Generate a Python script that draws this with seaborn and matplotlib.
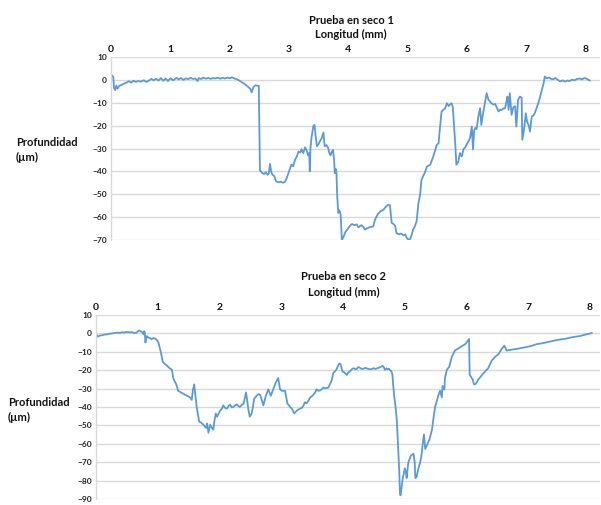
import matplotlib
matplotlib.use("Agg")
import matplotlib.pyplot as plt
import seaborn as sns
import pandas as pd

# Profile 1: position along the track (mm) and depth (µm)
x1 = [0.00, 0.02, 0.04, 0.05, 0.07, 0.09, 0.11, 0.14, 0.18, 0.22, 0.26, 0.30, 0.34, 0.38, 0.42,
      0.46, 0.50, 0.55, 0.60, 0.64, 0.68, 0.72, 0.76, 0.80, 0.84, 0.88, 0.92, 0.96, 1.00, 1.05,
      1.10, 1.14, 1.18, 1.22, 1.26, 1.30, 1.34, 1.38, 1.42, 1.46, 1.48, 1.52, 1.56, 1.60, 1.64,
      1.68, 1.72, 1.76, 1.80, 1.84, 1.88, 1.92, 1.96, 2.00, 2.04, 2.08, 2.12, 2.18, 2.24, 2.30,
      2.35, 2.37, 2.40, 2.43, 2.46, 2.49, 2.51, 2.54, 2.58, 2.61, 2.64, 2.66, 2.68, 2.70, 2.72,
      2.75, 2.78, 2.82, 2.86, 2.90, 2.93, 2.96, 3.00, 3.04, 3.07, 3.10, 3.13, 3.16, 3.19, 3.21,
      3.24, 3.27, 3.30, 3.32, 3.34, 3.35, 3.36, 3.38, 3.41, 3.43, 3.45, 3.47, 3.50, 3.52, 3.55,
      3.58, 3.60, 3.63, 3.66, 3.68, 3.70, 3.72, 3.74, 3.76, 3.77, 3.79, 3.80, 3.81, 3.83, 3.85,
      3.87, 3.88, 3.89, 3.92, 3.95, 3.98, 4.02, 4.06, 4.10, 4.14, 4.17, 4.19, 4.22, 4.25, 4.28,
      4.31, 4.35, 4.39, 4.42, 4.45, 4.48, 4.50, 4.54, 4.59, 4.63, 4.67, 4.70, 4.72, 4.73, 4.76,
      4.79, 4.81, 4.85, 4.89, 4.93, 4.96, 4.98, 5.01, 5.04, 5.07, 5.09, 5.12, 5.15, 5.18, 5.21,
      5.23, 5.26, 5.29, 5.32, 5.35, 5.38, 5.41, 5.43, 5.46, 5.49, 5.52, 5.54, 5.57, 5.60, 5.63,
      5.66, 5.69, 5.71, 5.74, 5.76, 5.77, 5.80, 5.82, 5.85, 5.88, 5.91, 5.94, 5.97, 5.99, 6.02,
      6.05, 6.08, 6.10, 6.12, 6.14, 6.16, 6.19, 6.22, 6.24, 6.27, 6.30, 6.33, 6.36, 6.39, 6.41,
      6.44, 6.47, 6.50, 6.53, 6.56, 6.58, 6.61, 6.64, 6.66, 6.68, 6.70, 6.72, 6.75, 6.78, 6.81,
      6.83, 6.86, 6.89, 6.92, 6.93, 6.96, 6.99, 7.01, 7.04, 7.06, 7.09, 7.12, 7.14, 7.17, 7.20,
      7.23, 7.26, 7.29, 7.31, 7.34, 7.38, 7.42, 7.45, 7.49, 7.53, 7.57, 7.61, 7.65, 7.69, 7.73,
      7.77, 7.81, 7.85, 7.90, 7.94, 7.97, 8.01, 8.04, 8.07]
y1 = [0.5, 2.0, 1.0, -3.5, -4.5, -2.5, -3.8, -2.6, -2.2, -1.6, -1.2, -0.6, -1.2, -0.4, -0.9,
      -0.5, -0.8, -0.2, -0.9, -0.3, 0.4, -0.2, 0.5, -0.3, 0.8, -0.4, 0.6, -0.5, 0.7, -0.2,
      0.9, 0.2, 0.8, 0.0, 0.7, 0.3, 0.9, 0.4, 0.6, -0.5, 0.8, 0.4, 1.0, 0.5, 0.9,
      0.4, 0.8, 0.6, 1.0, 0.5, 0.9, 0.6, 1.0, 0.7, 1.1, 0.6, 0.3, -0.6, -1.6, -2.8,
      -4.0, -5.5, -3.2, -2.4, -2.5, -2.6, -39.5, -40.5, -41.2, -40.3, -41.5, -40.8, -36.7, -40.2, -41.5,
      -42.0, -44.3, -44.8, -44.5, -45.0, -44.6, -43.0, -40.0, -37.0, -37.8, -35.0, -33.6, -31.3, -31.8, -30.3,
      -32.0, -29.5, -31.0, -33.0, -32.0, -40.0, -30.0, -25.0, -20.1, -19.7, -25.0, -29.0, -28.0, -26.8, -25.5,
      -23.0, -29.0, -28.5, -29.8, -32.0, -33.0, -31.5, -30.6, -35.0, -40.8, -39.0, -41.0, -50.0, -58.2, -57.0,
      -58.9, -64.0, -70.0, -68.5, -66.5, -65.5, -64.0, -63.0, -63.5, -63.2, -64.5, -64.0, -63.5, -64.2, -65.5,
      -65.0, -64.5, -64.2, -64.0, -61.0, -59.5, -58.5, -57.5, -56.8, -55.5, -54.6, -54.8, -60.0, -62.5, -63.0,
      -63.9, -67.0, -67.5, -67.2, -68.0, -67.5, -69.0, -69.8, -69.6, -67.5, -65.5, -64.0, -61.8, -53.9, -50.0,
      -44.0, -42.0, -40.5, -38.0, -37.5, -37.1, -35.0, -33.5, -31.0, -28.4, -27.7, -21.8, -13.8, -13.1, -12.5,
      -10.2, -11.5, -10.8, -10.2, -12.0, -16.0, -27.7, -37.1, -36.0, -32.0, -33.5, -30.3, -29.5, -28.4, -27.0,
      -25.5, -20.4, -30.4, -22.0, -21.0, -21.5, -16.0, -12.4, -19.7, -14.6, -10.2, -5.8, -8.7, -9.5, -10.2,
      -10.8, -10.5, -12.0, -13.8, -13.0, -13.2, -12.5, -12.4, -10.0, -7.3, -13.1, -5.8, -15.3, -12.0, -11.5,
      -20.4, -8.7, -7.3, -7.8, -26.2, -21.8, -14.6, -18.2, -20.0, -22.6, -16.0, -15.5, -14.6, -12.5, -10.2,
      -7.5, -4.4, -1.5, 1.5, 0.7, 1.0, 0.4, 0.3, 0.8, 0.0, -0.7, -0.2, -0.8, -0.3, -0.5,
      0.1, -0.2, 0.4, 0.6, 0.2, 0.8, 0.6, 0.1, -0.3]

# Profile 2
x2 = [0.00, 0.01, 0.03, 0.06, 0.10, 0.14, 0.18, 0.22, 0.26, 0.30, 0.34, 0.38, 0.42, 0.46, 0.50,
      0.54, 0.58, 0.62, 0.66, 0.68, 0.70, 0.72, 0.74, 0.76, 0.77, 0.78, 0.79, 0.80, 0.82, 0.85,
      0.88, 0.90, 0.93, 0.96, 0.99, 1.01, 1.03, 1.05, 1.08, 1.11, 1.14, 1.18, 1.23, 1.25, 1.28,
      1.30, 1.33, 1.38, 1.44, 1.48, 1.52, 1.55, 1.57, 1.59, 1.61, 1.63, 1.65, 1.67, 1.70, 1.74,
      1.77, 1.79, 1.80, 1.82, 1.85, 1.88, 1.90, 1.92, 1.94, 1.96, 1.98, 2.01, 2.04, 2.06, 2.09,
      2.12, 2.15, 2.17, 2.20, 2.22, 2.25, 2.28, 2.31, 2.33, 2.36, 2.39, 2.41, 2.43, 2.45, 2.47,
      2.49, 2.52, 2.54, 2.56, 2.60, 2.63, 2.66, 2.71, 2.75, 2.79, 2.83, 2.87, 2.91, 2.93, 2.95,
      2.98, 3.01, 3.06, 3.10, 3.14, 3.17, 3.21, 3.25, 3.30, 3.33, 3.36, 3.38, 3.41, 3.44, 3.47,
      3.50, 3.52, 3.55, 3.57, 3.60, 3.63, 3.66, 3.68, 3.72, 3.76, 3.79, 3.82, 3.84, 3.87, 3.89,
      3.92, 3.94, 3.96, 3.99, 4.02, 4.06, 4.09, 4.11, 4.14, 4.17, 4.20, 4.22, 4.25, 4.27, 4.30,
      4.33, 4.36, 4.38, 4.42, 4.46, 4.49, 4.52, 4.55, 4.57, 4.61, 4.64, 4.66, 4.68, 4.70, 4.72,
      4.74, 4.76, 4.78, 4.80, 4.81, 4.83, 4.85, 4.87, 4.89, 4.91, 4.92, 4.93, 4.95, 4.97, 4.98,
      5.00, 5.02, 5.03, 5.05, 5.06, 5.10, 5.14, 5.16, 5.17, 5.19, 5.22, 5.25, 5.27, 5.29, 5.31,
      5.33, 5.36, 5.40, 5.44, 5.46, 5.49, 5.52, 5.54, 5.57, 5.60, 5.61, 5.64, 5.65, 5.68, 5.72,
      5.76, 5.81, 5.87, 5.92, 5.98, 6.00, 6.03, 6.04, 6.05, 6.07, 6.10, 6.12, 6.15, 6.19, 6.25,
      6.30, 6.35, 6.41, 6.46, 6.52, 6.57, 6.61, 6.65, 6.70, 6.78, 6.87, 6.95, 7.05, 7.14, 7.22,
      7.30, 7.41, 7.50, 7.60, 7.68, 7.76, 7.84, 7.93, 8.03]
y2 = [-1.4, -0.8, -1.8, -1.2, -1.0, -0.6, -0.5, -0.2, 0.0, 0.2, 0.4, 0.3, 0.6, 0.5, 0.8,
      0.6, 0.7, 0.2, 0.5, 1.2, 1.6, 1.2, 0.8, 0.2, -0.5, 1.2, 0.5, -5.0, -1.5, -2.3,
      -2.6, -3.2, -2.5, -2.8, -3.8, -4.9, -7.5, -10.2, -15.4, -16.5, -17.2, -18.6, -19.8, -24.2, -26.5,
      -27.7, -31.2, -32.2, -33.3, -34.0, -34.7, -36.1, -30.5, -27.7, -34.0, -40.0, -44.0, -47.9, -48.5, -49.6,
      -51.0, -51.4, -49.0, -54.0, -49.6, -51.5, -52.3, -47.0, -43.5, -45.3, -44.0, -42.0, -40.9, -39.1, -40.5,
      -40.9, -39.3, -38.8, -40.2, -40.0, -39.2, -38.6, -39.6, -40.0, -38.8, -38.2, -35.0, -32.1, -37.2, -42.0,
      -45.3, -43.5, -40.0, -35.6, -33.9, -33.0, -33.5, -39.1, -33.9, -30.4, -33.9, -30.4, -26.8, -25.5, -24.2,
      -30.4, -31.2, -31.2, -38.2, -39.8, -40.9, -43.5, -42.0, -40.9, -40.5, -39.3, -37.4, -38.0, -36.5, -34.7,
      -34.0, -33.3, -32.0, -30.4, -31.2, -31.0, -30.2, -29.5, -29.8, -29.5, -27.5, -25.1, -21.6, -20.5, -19.8,
      -17.5, -16.3, -16.8, -20.7, -21.2, -22.5, -21.0, -20.8, -19.5, -18.9, -19.5, -19.2, -18.3, -18.6, -19.3,
      -19.2, -18.7, -19.0, -19.4, -19.5, -18.9, -19.3, -19.0, -18.8, -18.2, -17.6, -18.5, -19.8, -19.0, -19.5,
      -19.2, -20.0, -20.5, -22.5, -27.7, -34.7, -40.0, -47.0, -61.0, -75.0, -86.0, -88.0, -83.0, -78.0, -76.8,
      -73.3, -76.0, -78.6, -72.0, -69.8, -66.3, -65.4, -70.0, -78.6, -78.0, -73.3, -70.0, -66.3, -60.0, -54.9,
      -62.8, -60.5, -57.5, -52.3, -47.0, -40.0, -36.5, -33.9, -31.2, -34.7, -28.6, -30.5, -24.2, -19.8, -18.1,
      -12.8, -9.3, -8.1, -7.0, -5.8, -4.9, -3.5, -3.0, -22.5, -23.5, -25.1, -27.7, -27.4, -25.1, -22.5,
      -20.7, -18.9, -14.6, -12.8, -11.1, -8.4, -6.7, -9.3, -9.0, -8.6, -8.1, -7.5, -6.8, -5.8, -5.4,
      -4.8, -4.0, -3.4, -2.9, -2.3, -1.8, -1.4, -0.6, 0.2]

titles = ["Prueba en seco 1", "Prueba en seco 2"]
x_label = "Longitud (mm)"
y_label = "Profundidad\n(µm)"
x_ticks = [0, 1, 2, 3, 4, 5, 6, 7, 8]
y_ticks_1 = [10, 0, -10, -20, -30, -40, -50, -60, -70]
y_ticks_2 = [10, 0, -10, -20, -30, -40, -50, -60, -70, -80, -90]

sns.set_theme(style="white")
plt.rcParams["font.family"] = ["Lato", "DejaVu Sans"]

LINE = "#5B9BD5"
GRID = "#D9D9D9"
W, H = 601, 505

fig = plt.figure(figsize=(W / 100, H / 100), dpi=100)
fig.patch.set_facecolor("white")

# axes rectangles in pixel units: left, right, top, bottom
boxes = [(111, 600, 57, 240), (96, 600, 315, 499)]
xlims = [(0, 8.24), (0, 8.16)]
ylims = [(-70, 10), (-90, 10)]
yticks = [y_ticks_1, y_ticks_2]
series = [(x1, y1), (x2, y2)]
ylab_pos = [(16, 150), (8, 410)]
title_y = [(20, 34), (277, 292)]

for i in range(2):
    l, r, t, b = boxes[i]
    ax = fig.add_axes([l / W, 1 - b / H, (r - l) / W, (b - t) / H])
    df = pd.DataFrame({"x": series[i][0], "y": series[i][1]})
    sns.lineplot(data=df, x="x", y="y", ax=ax, color=LINE, linewidth=1.3,
                 estimator=None, sort=False)
    ax.set_xlim(*xlims[i])
    ax.set_ylim(*ylims[i])
    ax.set_xticks(x_ticks)
    ax.set_yticks(yticks[i])
    ax.xaxis.tick_top()
    ax.tick_params(axis="x", length=0, pad=2, labelsize=7.5, labelcolor="#111111")
    ax.tick_params(axis="y", length=0, pad=3, labelsize=6, labelcolor="#222222")
    for lab in ax.get_xticklabels():
        lab.set_fontweight("bold")
    for lab in ax.get_yticklabels():
        lab.set_fontweight("bold")
    ax.set_xlabel("")
    ax.set_ylabel("")
    ax.grid(axis="y", color=GRID, linewidth=1.0)
    ax.grid(axis="x", visible=False)
    ax.set_axisbelow(True)
    for side in ["top", "right", "bottom"]:
        ax.spines[side].set_visible(False)
    ax.spines["left"].set_color(GRID)
    ax.spines["left"].set_linewidth(1.0)

    cx = (l + r) / 2 / W - 0.007
    fig.text(cx, 1 - title_y[i][0] / H, titles[i], ha="center", va="center",
             fontsize=8, fontweight="bold", color="#111111")
    fig.text(cx, 1 - title_y[i][1] / H, x_label, ha="center", va="center",
             fontsize=8, fontweight="bold", color="#111111")
    fig.text(ylab_pos[i][0] / W, 1 - ylab_pos[i][1] / H, y_label, ha="left", va="center",
             fontsize=8, fontweight="bold", color="#111111", linespacing=1.5)

fig.savefig("out.png", dpi=100, facecolor="white")
